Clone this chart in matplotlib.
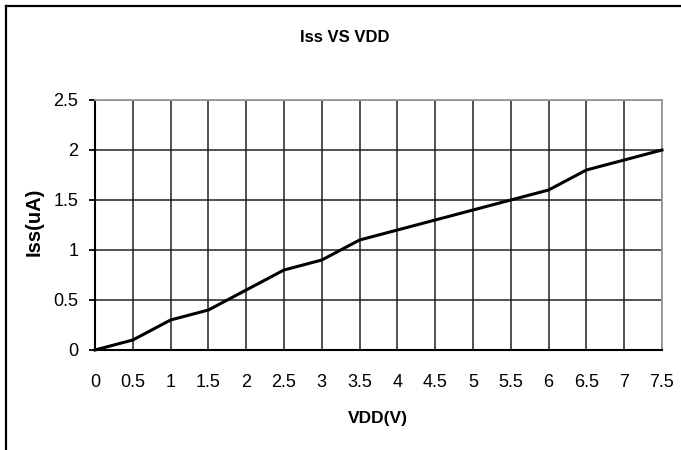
import matplotlib
matplotlib.use("Agg")
import matplotlib.pyplot as plt
from matplotlib.lines import Line2D
from matplotlib import font_manager

vdd = [0, 0.5, 1, 1.5, 2, 2.5, 3, 3.5, 4, 4.5, 5, 5.5, 6, 6.5, 7, 7.5]
iss = [0, 0.1, 0.3, 0.4, 0.6, 0.8, 0.9, 1.1, 1.2, 1.3, 1.4, 1.5, 1.6, 1.8, 1.9, 2.0]
yticks = [0, 0.5, 1, 1.5, 2, 2.5]
ytick_labels = ["0", "0.5", "1", "1.5", "2", "2.5"]
xtick_labels = ["0", "0.5", "1", "1.5", "2", "2.5", "3", "3.5", "4", "4.5", "5", "5.5", "6", "6.5", "7", "7.5"]

names = {f.name for f in font_manager.fontManager.ttflist}
fam = ["Liberation Sans Narrow"] if "Liberation Sans Narrow" in names else ["Liberation Sans"]
plt.rcParams['font.family'] = fam + ["DejaVu Sans"]

W, H = 681, 450
fig = plt.figure(figsize=(W / 100, H / 100), dpi=100)
L, R, T, B = 95, 662, 100, 350
ax = fig.add_axes([L / W, 1 - B / H, (R - L) / W, (B - T) / H])

ax.plot(vdd, iss, color="black", lw=2.2, solid_joinstyle="round", zorder=3, clip_on=False)
ax.set_xlim(0, 7.5)
ax.set_ylim(0, 2.5)
ax.set_xticks(vdd)
ax.set_xticklabels(xtick_labels)
ax.set_yticks(yticks)
ax.set_yticklabels(ytick_labels)
ax.grid(True, color="#222222", lw=1.1)
ax.set_axisbelow(True)
for s in ["top", "right"]:
    ax.spines[s].set_color("#999999")
    ax.spines[s].set_linewidth(1.3)
for s in ["left", "bottom"]:
    ax.spines[s].set_color("black")
    ax.spines[s].set_linewidth(1.5)
ax.tick_params(axis="x", length=0, pad=17, labelsize=13)
ax.tick_params(axis="y", length=4, width=1.3, direction="out", pad=8, labelsize=13)

fig.text(345 / W, 1 - 38 / H, "Iss VS VDD", ha="center", va="center", fontsize=12, fontweight="bold")
fig.text(378 / W, 1 - 418 / H, "VDD(V)", ha="center", va="center", fontsize=12.5, fontweight="bold")
fig.text(34 / W, 1 - 222 / H, "Iss(uA)", ha="center", va="center", rotation=90, fontsize=14.5, fontweight="bold")

fig.add_artist(Line2D([6 / W, 1], [1 - 6 / H, 1 - 6 / H], color="black", lw=1.6, transform=fig.transFigure))
fig.add_artist(Line2D([6 / W, 6 / W], [1 - 6 / H, 0], color="black", lw=1.6, transform=fig.transFigure))

fig.savefig("out.png", dpi=100)
